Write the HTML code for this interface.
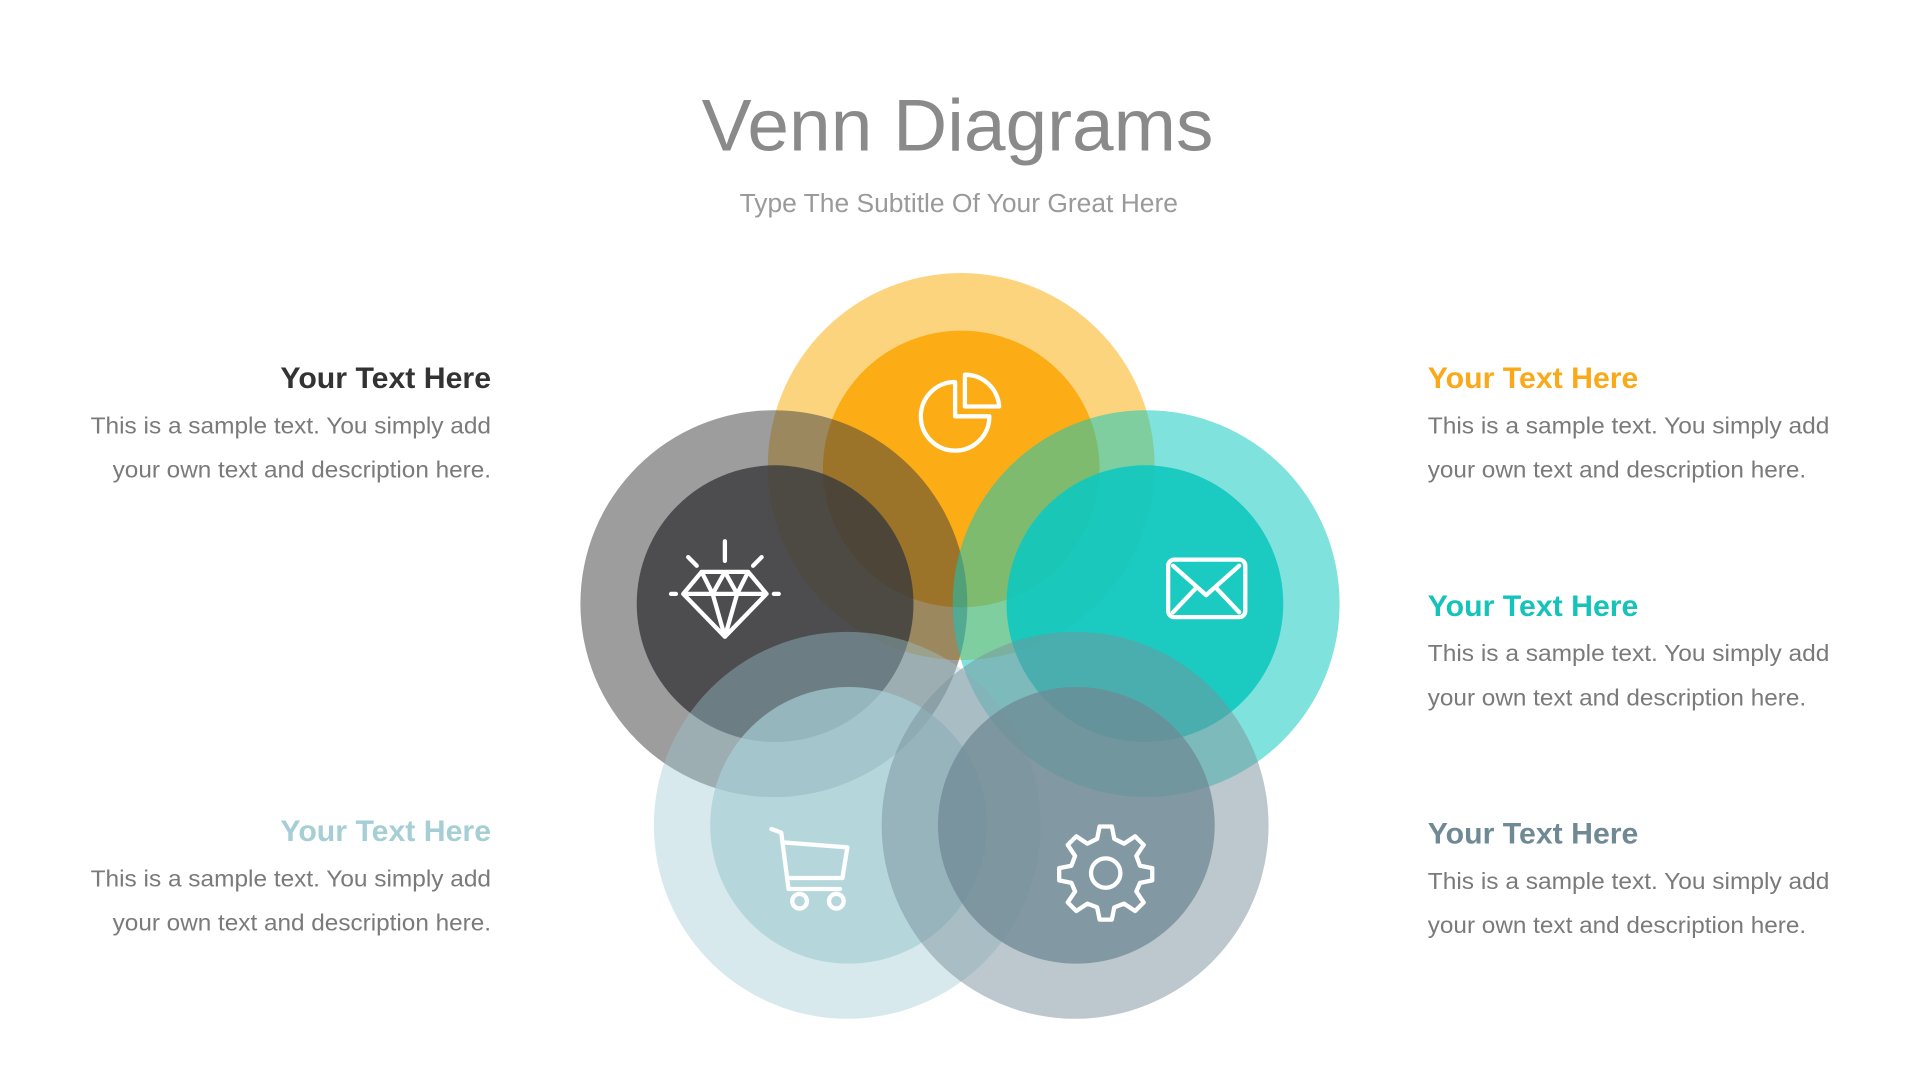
<!DOCTYPE html>
<html><head><meta charset="utf-8"><style>
html,body{margin:0;padding:0;background:#fff;}
svg{display:block;}
text{font-family:"Liberation Sans",sans-serif;}
</style></head><body>
<svg width="1920" height="1080" viewBox="0 0 1568 882" xmlns="http://www.w3.org/2000/svg">
<rect width="1568" height="882" fill="#fff"/>
<text x="573" y="123" font-size="60" fill="#8a8a8a" textLength="418" lengthAdjust="spacingAndGlyphs">Venn Diagrams</text>
<text x="604" y="173" font-size="21" fill="#9a9a9a" textLength="358" lengthAdjust="spacingAndGlyphs">Type The Subtitle Of Your Great Here</text>

<circle cx="785" cy="381" r="158" fill="#fcb014" fill-opacity="0.55"/>
<circle cx="785" cy="383" r="113" fill="#fcab10" fill-opacity="0.95"/>
<circle cx="632" cy="493" r="158" fill="#3c3c3e" fill-opacity="0.5"/>
<circle cx="633" cy="493" r="113" fill="#3a3a3c" fill-opacity="0.8"/>
<circle cx="936" cy="493" r="158" fill="#10c9be" fill-opacity="0.53"/>
<circle cx="935" cy="493" r="113" fill="#10c9be" fill-opacity="0.9"/>
<circle cx="692" cy="674" r="158" fill="#9ac7d0" fill-opacity="0.4"/>
<circle cx="693" cy="674" r="113" fill="#a6cfd6" fill-opacity="0.7"/>
<circle cx="878" cy="674" r="158" fill="#7a929c" fill-opacity="0.5"/>
<circle cx="879" cy="674" r="113" fill="#6f8a94" fill-opacity="0.75"/>

<g fill="none" stroke="#fff" stroke-width="3.5" stroke-linejoin="round" stroke-linecap="round">
<path d="M780 312 A28 28 0 1 0 808 340 L780 340 Z"/>
<path d="M788 306 L788 332 L816 332 A28 28 0 0 0 788 306 Z"/>
<path d="M573 467 L611 467 L626 485 L592 520 L558 485 Z M558 485 L626 485 M573 467 L582 485 L592 520 L602 485 L611 467 M582 485 L592 467 L602 485"/>
<path d="M592 442 L592 458 M562 455 L569 462 M622 455 L615 462 M548 485 L552 485 M632 485 L636 485"/>
<rect x="954" y="457" width="63" height="47" rx="5"/>
<path d="M958 462 L985 486 L1012 462 M958 500 L977 480 M1012 500 L993 480"/>
<path d="M630 677 L638 680 L644 726 L686 726 M641 688 L692 692 L688 717 L644 717"/>
<circle cx="653" cy="736" r="6"/><circle cx="683" cy="736" r="6"/>
<circle cx="903" cy="713" r="12"/>
<path d="M898 681 L908 681 L910 691 L918 695 L927 689 L934 696 L928 705 L931 713 L941 715 L941 725 L931 727 L928 734 L934 743 L927 750 L918 744 L910 747 L908 757 L898 757 L896 747 L888 744 L879 750 L872 743 L878 734 L875 727 L865 725 L865 715 L875 713 L878 705 L872 696 L879 689 L888 695 L896 691 Z" transform="translate(0,-6)"/>
</g>

<g font-size="19" fill="#7a7a7a">
<text x="229" y="317" font-size="24" font-weight="bold" fill="#333" textLength="172" lengthAdjust="spacingAndGlyphs">Your Text Here</text>
<text x="74" y="354" textLength="327" lengthAdjust="spacingAndGlyphs">This is a sample text. You simply add</text>
<text x="92" y="390" textLength="309" lengthAdjust="spacingAndGlyphs">your own text and description here.</text>

<text x="229" y="687" font-size="24" font-weight="bold" fill="#a5ced5" textLength="172" lengthAdjust="spacingAndGlyphs">Your Text Here</text>
<text x="74" y="724" textLength="327" lengthAdjust="spacingAndGlyphs">This is a sample text. You simply add</text>
<text x="92" y="760" textLength="309" lengthAdjust="spacingAndGlyphs">your own text and description here.</text>

<text x="1166" y="317" font-size="24" font-weight="bold" fill="#f9a91a" textLength="172" lengthAdjust="spacingAndGlyphs">Your Text Here</text>
<text x="1166" y="354" textLength="328" lengthAdjust="spacingAndGlyphs">This is a sample text. You simply add</text>
<text x="1166" y="390" textLength="309" lengthAdjust="spacingAndGlyphs">your own text and description here.</text>

<text x="1166" y="503" font-size="24" font-weight="bold" fill="#15c3ba" textLength="172" lengthAdjust="spacingAndGlyphs">Your Text Here</text>
<text x="1166" y="540" textLength="328" lengthAdjust="spacingAndGlyphs">This is a sample text. You simply add</text>
<text x="1166" y="576" textLength="309" lengthAdjust="spacingAndGlyphs">your own text and description here.</text>

<text x="1166" y="689" font-size="24" font-weight="bold" fill="#6f8a94" textLength="172" lengthAdjust="spacingAndGlyphs">Your Text Here</text>
<text x="1166" y="726" textLength="328" lengthAdjust="spacingAndGlyphs">This is a sample text. You simply add</text>
<text x="1166" y="762" textLength="309" lengthAdjust="spacingAndGlyphs">your own text and description here.</text>
</g>
</svg>
</body></html>
